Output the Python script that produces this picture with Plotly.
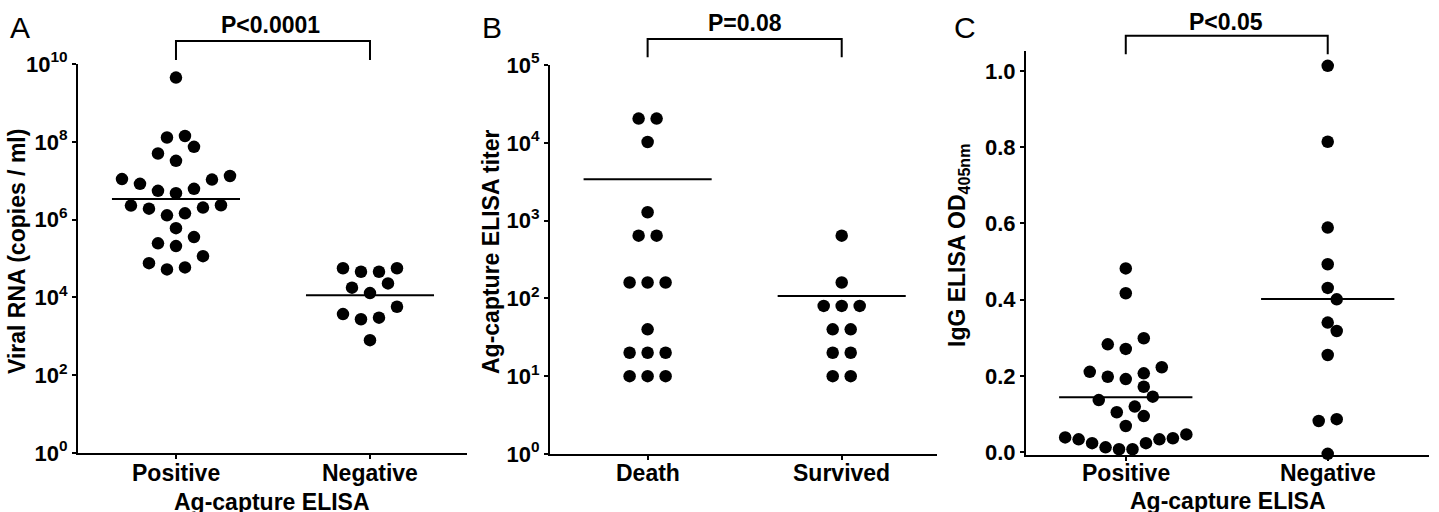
import numpy as np
import plotly.graph_objects as go

# ------------------------------------------------------------------ data
categories_a = ["Positive", "Negative"]
viral_rna_positive = [4.47e9, 1.41e8, 1.29e8, 7.41e7, 5.01e7, 3.24e7, 1.32e7, 1.10e7,
                      1.07e7, 8.32e6, 6.17e6, 5.50e6, 4.79e6, 2.34e6, 2.29e6, 2.04e6,
                      1.91e6, 1.45e6, 1.29e6, 6.03e5, 3.55e5, 2.45e5, 2.09e5, 1.15e5,
                      7.59e4, 5.89e4, 5.25e4]
viral_rna_negative = [5.62e4, 5.62e4, 4.57e4, 4.57e4, 2.29e4, 1.78e4, 1.29e4, 5.75e3,
                      3.72e3, 3.02e3, 2.75e3, 794]

categories_b = ["Death", "Survived"]
ag_titer_death = [20480, 20480, 10240, 1280, 640, 640, 160, 160, 160, 40, 20, 20, 20, 10, 10, 10]
ag_titer_survived = [640, 160, 80, 80, 80, 40, 40, 20, 20, 10, 10]

categories_c = ["Positive", "Negative"]
igg_od_positive = [0.482, 0.417, 0.299, 0.283, 0.271, 0.223, 0.211, 0.207, 0.198, 0.192,
                   0.172, 0.146, 0.137, 0.120, 0.105, 0.095, 0.069, 0.047, 0.039, 0.037,
                   0.034, 0.034, 0.024, 0.024, 0.013, 0.008, 0.008]
igg_od_negative = [1.013, 0.814, 0.589, 0.493, 0.431, 0.401, 0.340, 0.318, 0.255,
                   0.087, 0.082, -0.004]

p_labels = ["P<0.0001", "P=0.08", "P<0.05"]
panel_letters = ["A", "B", "C"]
y_titles = ["Viral RNA (copies / ml)", "Ag-capture ELISA titer", "IgG ELISA OD<sub>405nm</sub>"]
x_title = "Ag-capture ELISA"
log_exponents_a = [0, 2, 4, 6, 8, 10]
log_exponents_b = [0, 1, 2, 3, 4, 5]
linear_ticks_c = [0.0, 0.2, 0.4, 0.6, 0.8, 1.0]

# ------------------------------------------------------------------ layout constants
W, H = 1439, 512
FONT = "Liberation Sans"
BLACK = "#000000"
YTICK_SIZE = 22
XTICK_SIZE = 23
TEXT_SIZE = 23
DOT = 12.5

panels = [
    dict(px=(78, 467), py=(64, 453), xr=(-0.505, 1.5), yr=(0, 10), log=True,
         cats=categories_a, groups=[viral_rna_positive, viral_rna_negative], centre="geo",
         tickvals=[10.0 ** e for e in log_exponents_a],
         ticktext=["10<sup>%d</sup>" % e for e in log_exponents_a]),
    dict(px=(550, 937), py=(65, 454), xr=(-0.503, 1.491), yr=(0, 5), log=True,
         cats=categories_b, groups=[ag_titer_death, ag_titer_survived], centre="mean",
         tickvals=[10.0 ** e for e in log_exponents_b],
         ticktext=["10<sup>%d</sup>" % e for e in log_exponents_b]),
    dict(px=(1026, 1429), py=(50.7, 455), xr=(-0.494, 1.5015), yr=(-0.007, 1.0527), log=False,
         cats=categories_c, groups=[igg_od_positive, igg_od_negative], centre="mean",
         tickvals=linear_ticks_c, ticktext=["%.1f" % v for v in linear_ticks_c]),
]


def swarm(values, log, ppu_y, ppu_x, cat_px):
    """Row-based dot-plot layout (Prism style). Returns x offsets in axis units."""
    step, gap, span, dmin = 18.0, 8.0, 18.0, 12.0
    v = np.asarray(values, dtype=float)
    ypx = -(np.log10(v) if log else v) * ppu_y
    order = np.argsort(ypx, kind="stable")
    rows = []
    for i in order:
        if rows and ypx[i] - ypx[rows[-1][-1]] < gap and ypx[i] - ypx[rows[-1][0]] <= span:
            rows[-1].append(i)
        else:
            rows.append([i])
    xpx = np.zeros(len(v))
    placed = []
    maxspan = 0.6 * cat_px
    for row in rows:
        n = len(row)
        s = min(step, maxspan / (n - 1)) if n > 1 else 0.0
        slots = sorted([j - (n - 1) / 2 for j in range(n)], key=lambda p: (-abs(p), -p))
        base = [sl * s for sl in slots]
        shifts = [0.0]
        for k in range(1, 40):
            shifts += [k * step / 2, -k * step / 2]
        for sh in shifts:
            ok = True
            for idx, b in zip(row, base):
                for (px_, py_) in placed:
                    if np.hypot(b + sh - px_, ypx[idx] - py_) < dmin:
                        ok = False
                        break
                if not ok:
                    break
            if ok:
                break
        for idx, b in zip(row, base):
            xpx[idx] = b + sh
            placed.append((b + sh, ypx[idx]))
    return xpx / ppu_x


fig = go.Figure()
layout = dict(width=W, height=H, margin=dict(l=0, r=0, t=0, b=0, autoexpand=False),
              paper_bgcolor="white", plot_bgcolor="white", showlegend=False)
shapes, annotations = [], []
bold = dict(family=FONT, color=BLACK, weight="bold")

for k, p in enumerate(panels):
    ax = "" if k == 0 else str(k + 1)
    xref, yref = "x" + ax, "y" + ax
    ppu_x = (p["px"][1] - p["px"][0]) / (p["xr"][1] - p["xr"][0])
    ppu_y = (p["py"][1] - p["py"][0]) / (p["yr"][1] - p["yr"][0])
    for g, vals in enumerate(p["groups"]):
        off = swarm(vals, p["log"], ppu_y, ppu_x, ppu_x)
        fig.add_trace(go.Scatter(
            x=g + off, y=vals, mode="markers", xaxis=xref, yaxis=yref,
            marker=dict(size=DOT, color=BLACK, line=dict(width=0)),
            cliponaxis=False, hoverinfo="y"))
        arr = np.asarray(vals, dtype=float)
        c = 10 ** np.mean(np.log10(arr)) if p["centre"] == "geo" else np.mean(arr)
        fig.add_trace(go.Scatter(
            x=[g - 0.33, g + 0.33], y=[c, c], mode="lines", xaxis=xref, yaxis=yref,
            line=dict(color=BLACK, width=2), cliponaxis=False, hoverinfo="skip"))
        # category label under its tick
        annotations.append(dict(text=p["cats"][g], xref=xref, yref="paper", x=g,
                                y=1 - 472.5 / H, xanchor="center", yanchor="middle",
                                showarrow=False, font=dict(bold, size=XTICK_SIZE)))

    axis_common = dict(showline=True, linecolor=BLACK, linewidth=2, ticks="outside",
                       ticklen=4, tickwidth=2, tickcolor=BLACK, showgrid=False,
                       zeroline=False, fixedrange=True, automargin=False)
    layout["xaxis" + ax] = dict(axis_common, domain=[p["px"][0] / W, p["px"][1] / W],
                                range=list(p["xr"]), tickvals=[0, 1], ticktext=p["cats"],
                                showticklabels=False, anchor=yref)
    yax = dict(axis_common, domain=[1 - p["py"][1] / H, 1 - p["py"][0] / H],
               range=list(p["yr"]), tickvals=p["tickvals"], ticktext=p["ticktext"],
               anchor=xref, tickfont=dict(bold, size=YTICK_SIZE))
    if p["log"]:
        yax["type"] = "log"
    layout["yaxis" + ax] = yax

# significance brackets and P labels
bracket_px = [(41, 60), (39, 57.3), (35.7, 54.3)]
p_label_px = [(270.3, 24.7), (744.7, 22.8), (1225.5, 21.8)]
for k, (yh, yv) in enumerate(bracket_px):
    ax = "" if k == 0 else str(k + 1)
    shapes.append(dict(type="path", xref="x" + ax, yref="paper",
                       path="M 0,%f L 0,%f L 1,%f L 1,%f" % (1 - yv / H, 1 - yh / H, 1 - yh / H, 1 - yv / H),
                       line=dict(color=BLACK, width=2)))
    annotations.append(dict(text=p_labels[k], xref="paper", yref="paper",
                            x=p_label_px[k][0] / W, y=1 - p_label_px[k][1] / H,
                            xanchor="center", yanchor="middle", showarrow=False,
                            font=dict(bold, size=TEXT_SIZE)))

# panel letters
letter_px = [(8, 27.5), (480, 27), (952, 27.5)]
for k, (lx, ly) in enumerate(letter_px):
    annotations.append(dict(text=panel_letters[k], xref="paper", yref="paper",
                            x=lx / W, y=1 - ly / H, xanchor="left", yanchor="middle",
                            showarrow=False, font=dict(family=FONT, size=30, color=BLACK)))

# axis titles
ytitle_px = [(17, 252), (491, 252), (958, 245)]
for k, (tx, ty) in enumerate(ytitle_px):
    annotations.append(dict(text=y_titles[k], xref="paper", yref="paper",
                            x=tx / W, y=1 - ty / H, xanchor="center", yanchor="middle",
                            textangle=-90, showarrow=False, font=dict(bold, size=TEXT_SIZE)))
for (tx, ty) in [(271.7, 502), (1227.5, 501)]:
    annotations.append(dict(text=x_title, xref="paper", yref="paper",
                            x=tx / W, y=1 - ty / H, xanchor="center", yanchor="middle",
                            showarrow=False, font=dict(bold, size=TEXT_SIZE)))

layout["shapes"] = shapes
layout["annotations"] = annotations
fig.update_layout(**layout)
fig.write_html("out.html", config={"displayModeBar": False})
